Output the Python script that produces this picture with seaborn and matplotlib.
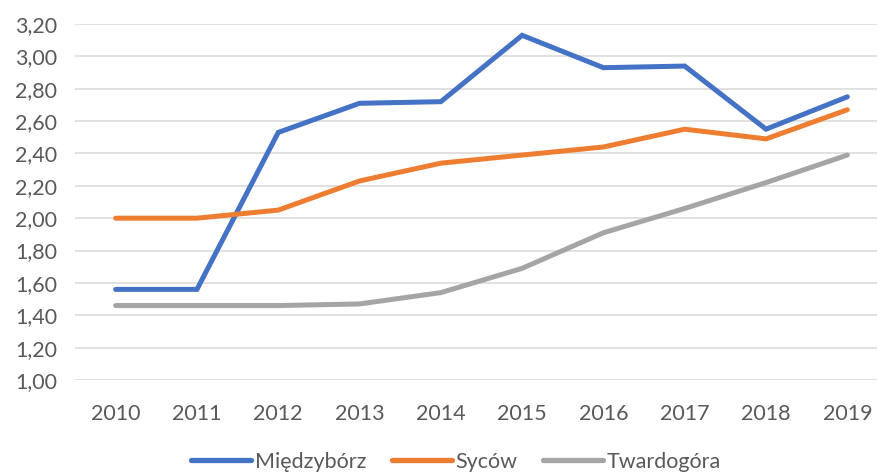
import pandas as pd
import seaborn as sns
import matplotlib.pyplot as plt
from matplotlib.ticker import FuncFormatter

# data
years = ['2010', '2011', '2012', '2013', '2014', '2015', '2016', '2017', '2018', '2019']
miedzyborz = [1.56, 1.56, 2.53, 2.71, 2.72, 3.13, 2.93, 2.94, 2.55, 2.75]
sycow = [2.00, 2.00, 2.05, 2.23, 2.34, 2.39, 2.44, 2.55, 2.49, 2.67]
twardogora = [1.46, 1.46, 1.46, 1.47, 1.54, 1.69, 1.91, 2.06, 2.22, 2.39]
names = ['Międzybórz', 'Syców', 'Twardogóra']
colors = ['#4472C4', '#ED7D31', '#A5A5A5']

df = pd.DataFrame({'year': years, names[0]: miedzyborz, names[1]: sycow, names[2]: twardogora})
long_df = df.melt(id_vars='year', var_name='gmina', value_name='value')

sns.set_style('white')
plt.rcParams['font.family'] = ['Lato', 'DejaVu Sans']
text_color = '#595959'

fig = plt.figure(figsize=(8.77, 4.74), dpi=100)
ax = fig.add_axes([75 / 877, 1 - 380 / 474, (888 - 75) / 877, (380 - 24) / 474])

sns.lineplot(data=long_df, x='year', y='value', hue='gmina', hue_order=names,
             palette=colors, linewidth=3.6, ax=ax, legend=False,
             solid_capstyle='round', solid_joinstyle='miter', sort=False)

ax.set_xlim(-0.5, len(years) - 0.5)
ax.set_ylim(1.0, 3.2)
ax.set_yticks([1.0 + 0.2 * i for i in range(12)])
ax.yaxis.set_major_formatter(FuncFormatter(lambda v, p: f'{v:.2f}'.replace('.', ',')))
ax.grid(axis='y', color='#D9D9D9', linewidth=1.1)
ax.set_axisbelow(True)
for s in ax.spines.values():
    s.set_visible(False)
ax.tick_params(axis='both', length=0, labelsize=15.5, labelcolor=text_color)
ax.tick_params(axis='y', pad=13)
ax.tick_params(axis='x', pad=17)
ax.set_xlabel('')
ax.set_ylabel('')

handles = [plt.Line2D([], [], color=c, linewidth=3.8, solid_capstyle='round') for c in colors]
fig.legend(handles, names, loc='center', bbox_to_anchor=(456 / 877, 1 - 462 / 474),
           ncol=3, frameon=False, fontsize=15.5, handlelength=2.8, handletextpad=0.15,
           columnspacing=1.2, labelcolor=text_color)

fig.savefig('out.png', dpi=100)
